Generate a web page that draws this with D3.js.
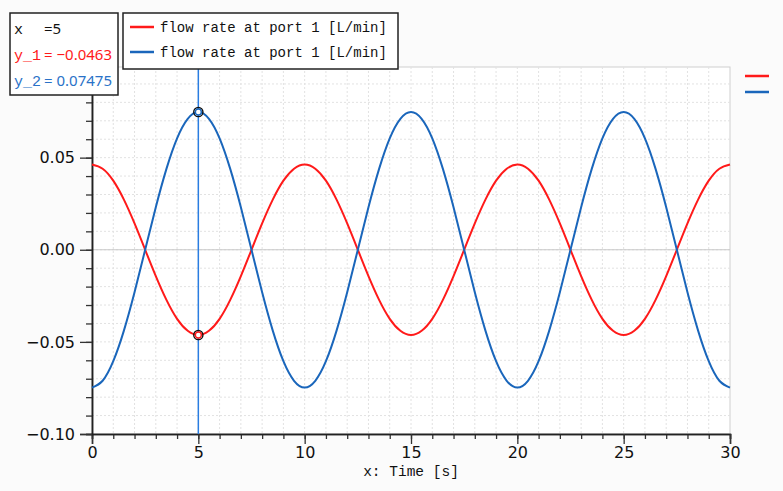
<!DOCTYPE html>
<html>
<head>
<meta charset="utf-8">
<script src="https://cdn.jsdelivr.net/npm/d3@7"></script>
<style>
  body { margin: 0; background: #fbfbfb; }
  svg { display: block; }
  .mono { font-family: 'Liberation Mono', 'DejaVu Sans Mono', monospace; }
  .tick text { font-family: 'DejaVu Sans', sans-serif; }
</style>
</head>
<body>
<div id="chart"></div>
<script>
// 数据
const times = d3.range(0, 30.01, 0.5);
const flowPort1a = [
  0.0463, 0.0440, 0.0375, 0.0272, 0.0143, 0.0000, -0.0143, -0.0272, -0.0375, -0.0440,
  -0.0463, -0.0440, -0.0375, -0.0272, -0.0143, 0.0000, 0.0143, 0.0272, 0.0375, 0.0440,
  0.0463, 0.0440, 0.0375, 0.0272, 0.0143, 0.0000, -0.0143, -0.0272, -0.0375, -0.0440,
  -0.0463, -0.0440, -0.0375, -0.0272, -0.0143, 0.0000, 0.0143, 0.0272, 0.0375, 0.0440,
  0.0463, 0.0440, 0.0375, 0.0272, 0.0143, 0.0000, -0.0143, -0.0272, -0.0375, -0.0440,
  -0.0463, -0.0440, -0.0375, -0.0272, -0.0143, 0.0000, 0.0143, 0.0272, 0.0375, 0.0440,
  0.0463,
];
const flowPort1b = [
  -0.0748, -0.0711, -0.0605, -0.0439, -0.0231, 0.0000, 0.0231, 0.0439, 0.0605, 0.0711,
  0.0748, 0.0711, 0.0605, 0.0439, 0.0231, 0.0000, -0.0231, -0.0439, -0.0605, -0.0711,
  -0.0748, -0.0711, -0.0605, -0.0439, -0.0231, 0.0000, 0.0231, 0.0439, 0.0605, 0.0711,
  0.0748, 0.0711, 0.0605, 0.0439, 0.0231, 0.0000, -0.0231, -0.0439, -0.0605, -0.0711,
  -0.0748, -0.0711, -0.0605, -0.0439, -0.0231, 0.0000, 0.0231, 0.0439, 0.0605, 0.0711,
  0.0748, 0.0711, 0.0605, 0.0439, 0.0231, 0.0000, -0.0231, -0.0439, -0.0605, -0.0711,
  -0.0748,
];
const seriesNames = ['flow rate at port 1 [L/min]', 'flow rate at port 1 [L/min]'];
const seriesColors = ['#ff1a1a', '#1a66bb'];
const xTicks = [0, 5, 10, 15, 20, 25, 30];
const yTicks = [-0.10, -0.05, 0.00, 0.05];
const cursorX = 5;
const cursorY = [-0.0463, 0.07475];
const cursorLabels = ['y_1', 'y_2'];

const W = 783, H = 491;
const margin = { left: 92, right: 53, top: 67, bottom: 57 };
const iw = W - margin.left - margin.right,
  ih = H - margin.top - margin.bottom;

const svg = d3.select('#chart').append('svg').attr('width', W).attr('height', H);

const x = d3.scaleLinear().domain([0, 30]).range([margin.left, margin.left + iw]);
const y = d3.scaleLinear().domain([-0.1, 0.0992]).range([margin.top + ih, margin.top]);

// 绘图区背景
svg.append('rect')
  .attr('x', margin.left).attr('y', margin.top)
  .attr('width', iw).attr('height', ih)
  .attr('fill', '#fff')
  .attr('stroke', '#cfcfcf');

// 网格
const grid = svg.append('g').attr('class', 'grid');
grid.selectAll('line.vx')
  .data(d3.range(1, 30))
  .enter()
  .append('line')
  .attr('x1', (d) => x(d)).attr('x2', (d) => x(d))
  .attr('y1', margin.top).attr('y2', margin.top + ih)
  .attr('stroke', '#e2e2e2')
  .attr('stroke-dasharray', '2,2');
grid.selectAll('line.hy')
  .data(d3.range(-0.09, 0.0995, 0.01))
  .enter()
  .append('line')
  .attr('x1', margin.left).attr('x2', margin.left + iw)
  .attr('y1', (d) => y(d)).attr('y2', (d) => y(d))
  .attr('stroke', '#e2e2e2')
  .attr('stroke-dasharray', '2,2');

// 零线
svg.append('line')
  .attr('x1', margin.left).attr('x2', margin.left + iw)
  .attr('y1', y(0)).attr('y2', y(0))
  .attr('stroke', '#c8c8c8')
  .attr('stroke-width', 1.2);

// 坐标轴
const xMinor = svg.append('g')
  .attr('transform', `translate(0,${margin.top + ih})`)
  .call(d3.axisBottom(x).tickValues(d3.range(0, 31)).tickSize(5).tickFormat(''));
const xAxis = svg.append('g')
  .attr('transform', `translate(0,${margin.top + ih})`)
  .call(d3.axisBottom(x).tickValues(xTicks).tickSize(10).tickPadding(3).tickFormat(d3.format('d')));
const yMinor = svg.append('g')
  .attr('transform', `translate(${margin.left},0)`)
  .call(d3.axisLeft(y).tickValues(d3.range(-0.1, 0.0995, 0.01)).tickSize(6).tickFormat(''));
const yAxis = svg.append('g')
  .attr('transform', `translate(${margin.left},0)`)
  .call(d3.axisLeft(y).tickValues(yTicks).tickSize(12).tickPadding(5).tickFormat(d3.format('.2f')));

[xMinor, xAxis, yMinor, yAxis].forEach((g) => {
  g.select('.domain').attr('stroke', '#222').attr('stroke-width', 1.5);
  g.selectAll('.tick line').attr('stroke', '#333').attr('stroke-width', 1.3);
});
xAxis.selectAll('.tick text').attr('font-size', 16).attr('fill', '#111');
yAxis.selectAll('.tick text').attr('font-size', 16).attr('fill', '#111');

svg.append('text')
  .attr('class', 'mono')
  .attr('x', margin.left + iw / 2)
  .attr('y', 476)
  .attr('text-anchor', 'middle')
  .attr('font-size', 14.5)
  .attr('fill', '#111')
  .text('x: Time [s]');

// 曲线
const series = [flowPort1a, flowPort1b];
const line = d3.line()
  .x((d) => x(d[0]))
  .y((d) => y(d[1]))
  .curve(d3.curveNatural);

svg.append('g')
  .selectAll('path.series')
  .data(series)
  .enter()
  .append('path')
  .attr('class', 'series')
  .attr('fill', 'none')
  .attr('stroke', (_, i) => seriesColors[i])
  .attr('stroke-width', 2)
  .attr('d', (d) => line(d.map((v, i) => [times[i], v])));

// 光标线
svg.append('line')
  .attr('x1', x(cursorX)).attr('x2', x(cursorX))
  .attr('y1', margin.top).attr('y2', margin.top + ih)
  .attr('stroke', '#2a7de1')
  .attr('stroke-width', 1.5);

const marks = svg.append('g')
  .selectAll('g.mark')
  .data(cursorY)
  .enter()
  .append('g')
  .attr('class', 'mark')
  .attr('transform', (d) => `translate(${x(cursorX)},${y(d)})`);
marks.append('circle').attr('r', 4.6).attr('fill', 'none').attr('stroke', '#111').attr('stroke-width', 1.4);
marks.append('circle').attr('r', 3).attr('fill', '#fff').attr('stroke', (_, i) => seriesColors[i]).attr('stroke-width', 1.4);

// 光标信息框
const info = svg.append('g');
info.append('rect')
  .attr('x', 10).attr('y', 13).attr('width', 108).attr('height', 82)
  .attr('fill', '#fff').attr('stroke', '#222').attr('stroke-width', 1.5);
const infoRows = [
  { label: 'x', value: '=5', color: '#111' },
  { label: cursorLabels[0], value: '= \u2212' + Math.abs(cursorY[0]), color: seriesColors[0] },
  { label: cursorLabels[1], value: '= ' + cursorY[1], color: '#2a72c8' },
];
infoRows.forEach((r, i) => {
  info.append('text')
    .attr('class', 'mono')
    .attr('x', 14)
    .attr('y', 34 + i * 26)
    .attr('font-size', 15)
    .attr('fill', r.color)
    .text(r.label);
  info.append('text')
    .attr('x', 44)
    .attr('y', 34 + i * 26)
    .style('font-family', "'Noto Sans', sans-serif")
    .attr('font-size', 15)
    .attr('fill', r.color)
    .text(r.value);
});

// 图例
const legend = svg.append('g');
legend.append('rect')
  .attr('x', 123).attr('y', 13).attr('width', 275).attr('height', 56)
  .attr('fill', '#fff').attr('stroke', '#222').attr('stroke-width', 1.5);
const items = legend.selectAll('g.item')
  .data(seriesNames)
  .enter()
  .append('g')
  .attr('class', 'item')
  .attr('transform', (_, i) => `translate(0,${27 + i * 25})`);
items.append('line')
  .attr('x1', 130).attr('x2', 154)
  .attr('stroke', (_, i) => seriesColors[i])
  .attr('stroke-width', 2.5);
items.append('text')
  .attr('class', 'mono')
  .attr('x', 160)
  .attr('dy', '0.35em')
  .attr('font-size', 14)
  .attr('fill', '#111')
  .text((d) => d);

// 右侧标记
svg.append('g')
  .selectAll('line.side')
  .data(seriesColors)
  .enter()
  .append('line')
  .attr('x1', 745).attr('x2', 769)
  .attr('y1', (_, i) => 76 + i * 16).attr('y2', (_, i) => 76 + i * 16)
  .attr('stroke', (d) => d)
  .attr('stroke-width', 2.5);
</script>
</body>
</html>
